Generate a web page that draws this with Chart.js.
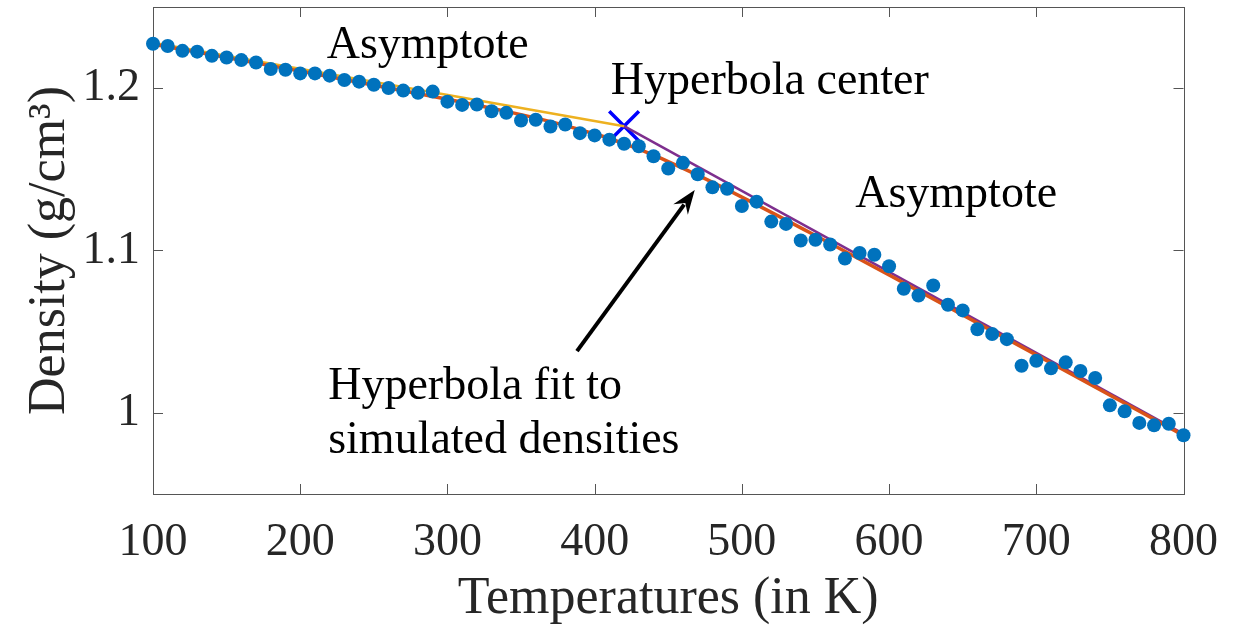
<!DOCTYPE html>
<html>
<head>
<meta charset="utf-8">
<script src="https://cdn.jsdelivr.net/npm/chart.js@4/dist/chart.umd.min.js"></script>
<style>
  html, body { margin: 0; padding: 0; background: #fff; }
  #wrap { width: 1239px; height: 631px; }
</style>
</head>
<body>
<div id="wrap"><canvas id="densityChart"></canvas></div>
<script>
// ── Data ─────────────────────────────────────────────────
const temps = [100, 110, 120, 130, 140, 150, 160, 170, 180, 190,
               200, 210, 220, 230, 240, 250, 260, 270, 280, 290,
               300, 310, 320, 330, 340, 350, 360, 370, 380, 390,
               400, 410, 420, 430, 440, 450, 460, 470, 480, 490,
               500, 510, 520, 530, 540, 550, 560, 570, 580, 590,
               600, 610, 620, 630, 640, 650, 660, 670, 680, 690,
               700, 710, 720, 730, 740, 750, 760, 770, 780, 790, 800];
const density = [1.2274, 1.2260, 1.2230, 1.2225, 1.2199, 1.2189, 1.2173, 1.2158, 1.2118, 1.2113,
                 1.2091, 1.2091, 1.2077, 1.2050, 1.2040, 1.2021, 1.2001, 1.1985, 1.1971, 1.1979,
                 1.1917, 1.1897, 1.1899, 1.1858, 1.1848, 1.1801, 1.1805, 1.1764, 1.1776, 1.1723,
                 1.1709, 1.1683, 1.1658, 1.1642, 1.1581, 1.1505, 1.1540, 1.1470, 1.1389, 1.1380,
                 1.1274, 1.1301, 1.1178, 1.1164, 1.1062, 1.1066, 1.1037, 1.0950, 1.0985, 1.0974,
                 1.0903, 1.0764, 1.0723, 1.0784, 1.0666, 1.0631, 1.0515, 1.0486, 1.0454, 1.0290,
                 1.0321, 1.0274, 1.0311, 1.0258, 1.0215, 1.0046, 1.0009, 0.9938, 0.9923, 0.9933, 0.9862];

// hyperbola fit (red curve)
const fitTemps   = [100, 200, 300, 340, 370, 390, 400, 410, 420, 430, 440, 450, 470, 500, 550, 600, 700, 800];
const fitDensity = [1.2271, 1.2105, 1.1932, 1.1857, 1.1794, 1.1745, 1.1719, 1.1690, 1.1658, 1.1624,
                    1.1587, 1.1548, 1.1464, 1.1329, 1.1092, 1.0849, 1.0357, 0.9861];

// asymptotes and hyperbola center
const lowAsymTemps    = [100, 420];
const lowAsymDensity  = [1.2280, 1.1766];
const highAsymTemps   = [420, 800];
const highAsymDensity = [1.1766, 0.9870];
const centerTemp    = [420];
const centerDensity = [1.1766];

const xTicks = [100, 200, 300, 400, 500, 600, 700, 800];
const yTicks = [1, 1.1, 1.2];

const pairs = (xs, ys) => xs.map((t, i) => ({ x: t, y: ys[i] }));

// text labels placed in data coordinates (left edge, baseline)
const notes = [
  { text: 'Asymptote',           x: 218, y: 1.2187 },
  { text: 'Hyperbola center',    x: 411, y: 1.1966 },
  { text: 'Asymptote',           x: 577, y: 1.1268 },
  { text: 'Hyperbola fit to',    x: 219, y: 1.0086 },
  { text: 'simulated densities', x: 219, y: 0.9750 }
];
const arrowFrom = { x: 388, y: 1.0380 };
const arrowTo   = { x: 468, y: 1.1372 };

const SERIF = "'Liberation Serif', 'Times New Roman', serif";
const INK = '#262626';

// ── Box, inward ticks, arrow and labels ─────────────────
const decorations = {
  id: 'decorations',
  beforeDatasetsDraw(chart) {
    const { ctx, chartArea: a, scales: { x, y } } = chart;
    ctx.save();
    ctx.strokeStyle = '#555';
    ctx.lineWidth = 1;
    ctx.strokeRect(Math.round(a.left) + 0.5, Math.round(a.top) + 0.5,
                   Math.round(a.right - a.left), Math.round(a.bottom - a.top));
    ctx.beginPath();
    xTicks.forEach(v => {
      const px = Math.round(x.getPixelForValue(v)) + 0.5;
      ctx.moveTo(px, a.bottom); ctx.lineTo(px, a.bottom - 10);
      ctx.moveTo(px, a.top);    ctx.lineTo(px, a.top + 10);
    });
    yTicks.forEach(v => {
      const py = Math.round(y.getPixelForValue(v)) + 0.5;
      ctx.moveTo(a.left, py);  ctx.lineTo(a.left + 10, py);
      ctx.moveTo(a.right, py); ctx.lineTo(a.right - 10, py);
    });
    ctx.stroke();
    ctx.restore();
  },
  afterDatasetsDraw(chart) {
    const { ctx, scales: { x, y } } = chart;
    ctx.save();

    // arrow
    const x0 = x.getPixelForValue(arrowFrom.x), y0 = y.getPixelForValue(arrowFrom.y);
    const x1 = x.getPixelForValue(arrowTo.x),   y1 = y.getPixelForValue(arrowTo.y);
    const ang = Math.atan2(y1 - y0, x1 - x0);
    const headLen = 24, headW = 9;
    const bx = x1 - headLen * Math.cos(ang), by = y1 - headLen * Math.sin(ang);
    ctx.strokeStyle = '#000';
    ctx.fillStyle = '#000';
    ctx.lineWidth = 4;
    ctx.beginPath();
    ctx.moveTo(x0, y0);
    ctx.lineTo(bx + 6 * Math.cos(ang), by + 6 * Math.sin(ang));
    ctx.stroke();
    ctx.beginPath();
    ctx.moveTo(x1, y1);
    ctx.lineTo(bx + headW * Math.sin(ang), by - headW * Math.cos(ang));
    ctx.lineTo(bx + 8 * Math.cos(ang), by + 8 * Math.sin(ang));
    ctx.lineTo(bx - headW * Math.sin(ang), by + headW * Math.cos(ang));
    ctx.closePath();
    ctx.fill();

    // labels
    ctx.fillStyle = '#000';
    ctx.font = '46px ' + SERIF;
    ctx.textAlign = 'left';
    ctx.textBaseline = 'alphabetic';
    notes.forEach(n => ctx.fillText(n.text, x.getPixelForValue(n.x), y.getPixelForValue(n.y)));
    ctx.restore();
  }
};

const ctx = document.getElementById('densityChart').getContext('2d');
new Chart(ctx, {
  type: 'scatter',
  data: {
    datasets: [
      {
        label: 'Simulated densities',
        data: pairs(temps, density),
        showLine: false,
        pointRadius: 7,
        pointBackgroundColor: '#0072BD',
        pointBorderWidth: 0,
        clip: false
      },
      {
        label: 'Hyperbola fit',
        data: pairs(fitTemps, fitDensity),
        showLine: true,
        borderColor: '#D95319',
        borderWidth: 3.5,
        pointRadius: 0,
        cubicInterpolationMode: 'monotone',
        clip: false
      },
      {
        label: 'Low-T asymptote',
        data: pairs(lowAsymTemps, lowAsymDensity),
        showLine: true,
        borderColor: '#EDB120',
        borderWidth: 2.5,
        pointRadius: 0,
        clip: false
      },
      {
        label: 'High-T asymptote',
        data: pairs(highAsymTemps, highAsymDensity),
        showLine: true,
        borderColor: '#7E2F8E',
        borderWidth: 2.5,
        pointRadius: 0,
        clip: false
      },
      {
        label: 'Hyperbola center',
        data: pairs(centerTemp, centerDensity),
        showLine: false,
        pointStyle: 'crossRot',
        pointRadius: 21,
        pointBorderColor: '#0000FF',
        pointBorderWidth: 3.5,
        clip: false
      }
    ]
  },
  options: {
    responsive: true,
    maintainAspectRatio: false,
    animation: false,
    layout: { autoPadding: false, padding: { top: 7, right: 54, bottom: 0, left: 0 } },
    plugins: {
      legend: { display: false },
      tooltip: { enabled: false }
    },
    scales: {
      x: {
        type: 'linear',
        min: 100,
        max: 800,
        afterFit: s => { s.height = 137; },
        afterBuildTicks: s => { s.ticks = xTicks.map(v => ({ value: v })); },
        grid: { display: false, drawTicks: false },
        border: { display: false },
        ticks: { color: INK, padding: 21, font: { family: SERIF, size: 46 } },
        title: {
          display: true,
          text: 'Temperatures (in K)',
          color: INK,
          padding: { top: 0, bottom: 0 },
          font: { family: SERIF, size: 52 }
        }
      },
      y: {
        type: 'linear',
        min: 0.95,
        max: 1.25,
        afterFit: s => { s.width = 153; s.paddingTop = 0; s.paddingBottom = 0; },
        afterBuildTicks: s => { s.ticks = yTicks.map(v => ({ value: v })); },
        grid: { display: false, drawTicks: false },
        border: { display: false },
        ticks: {
          color: INK,
          padding: 13,
          font: { family: SERIF, size: 46 },
          callback: v => String(Number(v.toFixed(1)))
        },
        title: {
          display: true,
          text: 'Density (g/cm\u00B3)',
          color: INK,
          padding: { top: 19, bottom: 0 },
          font: { family: SERIF, size: 52 }
        }
      }
    }
  },
  plugins: [decorations]
});
</script>
</body>
</html>
